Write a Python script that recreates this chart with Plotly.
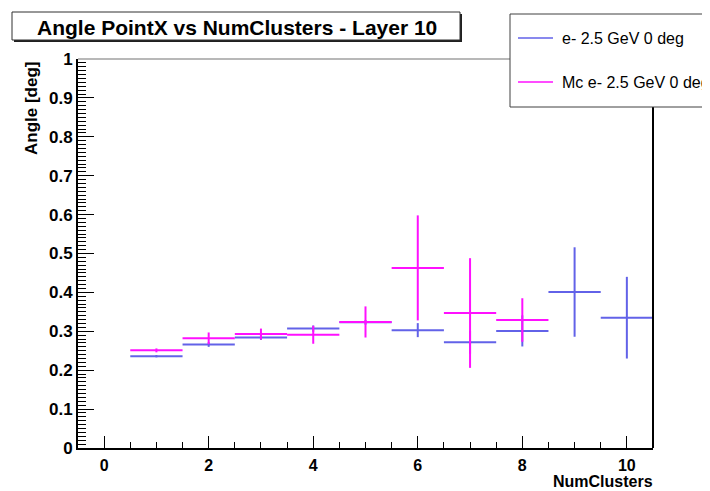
"""Angle PointX vs NumClusters, Layer 10 -- ROOT style profile plot in Plotly."""

import plotly.graph_objects as go

# data
bins_reco = [1, 2, 3, 4, 5, 6, 7, 8, 9, 10]
angle_reco = [0.236, 0.266, 0.284, 0.307, 0.323, 0.303, 0.272, 0.301, 0.401, 0.335]
err_reco = [0.003, 0.006, 0.006, 0.008, 0.006, 0.018, 0.03, 0.04, 0.115, 0.105]

bins_mc = [1, 2, 3, 4, 5, 6, 7, 8]
angle_mc = [0.251, 0.282, 0.293, 0.291, 0.324, 0.463, 0.347, 0.329]
err_mc = [0.005, 0.015, 0.014, 0.023, 0.04, 0.135, 0.141, 0.056]

label_reco = "e- 2.5 GeV 0 deg"
label_mc = "Mc e- 2.5 GeV 0 deg"
title = "Angle PointX vs NumClusters - Layer 10"

BLUE = "#6262e8"
MAGENTA = "#ff10ff"
FONT = "Liberation Sans"

# page body has an 8px margin, so the figure is shrunk and shifted by it
OFF = 8
W, H = 710 - OFF, 491 - OFF
# frame edges in screenshot pixels
FL, FR, FT, FB = 78, 653, 59, 448


def px(x):
    return (x - FL) / (FR - FL)


def py(y):
    return (FB - y) / (FB - FT)


fig = go.Figure()

for xs, ys, es, color, name in [
    (bins_reco, angle_reco, err_reco, BLUE, label_reco),
    (bins_mc, angle_mc, err_mc, MAGENTA, label_mc),
]:
    fig.add_trace(
        go.Scatter(
            x=xs,
            y=ys,
            mode="markers",
            name=name,
            marker={"size": 1, "color": color, "opacity": 0},
            error_x={"type": "constant", "value": 0.5, "width": 0, "thickness": 2, "color": color},
            error_y={"type": "data", "array": es, "width": 0, "thickness": 2, "color": color},
            showlegend=False,
            hoverinfo="x+y",
        )
    )

shapes = [
    # frame top (gray) and right (black)
    {"type": "line", "xref": "paper", "yref": "paper", "x0": 0, "x1": 1, "y0": 1, "y1": 1,
     "line": {"color": "#a0a0a0", "width": 1.5}},
    {"type": "line", "xref": "paper", "yref": "paper", "x0": 1, "x1": 1, "y0": 0, "y1": 1,
     "line": {"color": "black", "width": 2}},
    # title box shadow + box
    {"type": "rect", "xref": "paper", "yref": "paper", "x0": px(14), "x1": px(462), "y0": py(42), "y1": py(14),
     "fillcolor": "#202020", "line": {"width": 0}},
    {"type": "rect", "xref": "paper", "yref": "paper", "x0": px(12), "x1": px(460), "y0": py(40), "y1": py(12),
     "fillcolor": "white", "line": {"color": "#303030", "width": 1}},
    # legend box
    {"type": "rect", "xref": "paper", "yref": "paper", "x0": px(510), "x1": px(760), "y0": py(107), "y1": py(14),
     "fillcolor": "white", "line": {"color": "#404040", "width": 1}},
    {"type": "line", "xref": "paper", "yref": "paper", "x0": px(518), "x1": px(553), "y0": py(38), "y1": py(38),
     "line": {"color": BLUE, "width": 1.5}},
    {"type": "line", "xref": "paper", "yref": "paper", "x0": px(518), "x1": px(553), "y0": py(82), "y1": py(82),
     "line": {"color": MAGENTA, "width": 1.5}},
]

annotations = [
    {"text": title, "xref": "paper", "yref": "paper", "x": px(237), "y": py(27), "xanchor": "center",
     "yanchor": "middle", "showarrow": False, "font": {"size": 21, "color": "black", "weight": "bold"}},
    {"text": label_reco, "xref": "paper", "yref": "paper", "x": px(560), "y": py(38), "xanchor": "left",
     "yanchor": "middle", "showarrow": False, "font": {"size": 16, "color": "black"}},
    {"text": label_mc, "xref": "paper", "yref": "paper", "x": px(560), "y": py(82), "xanchor": "left",
     "yanchor": "middle", "showarrow": False, "font": {"size": 16, "color": "black"}},
    {"text": "Angle [deg]", "xref": "paper", "yref": "paper", "x": px(31), "y": py(59), "xanchor": "center",
     "yanchor": "top", "textangle": -90, "showarrow": False, "font": {"size": 17, "color": "black", "weight": "bold"}},
    {"text": "NumClusters", "xref": "paper", "yref": "paper", "x": px(654), "y": py(491), "xanchor": "right",
     "yanchor": "bottom", "borderpad": 0, "showarrow": False,
     "font": {"size": 16, "color": "black", "weight": "bold"}},
]

fig.update_layout(
    width=W,
    height=H,
    margin={"l": FL - OFF, "r": W - (FR - OFF), "t": FT - OFF, "b": H - (FB - OFF)},
    paper_bgcolor="white",
    plot_bgcolor="white",
    font={"family": FONT, "color": "black"},
    shapes=shapes,
    annotations=annotations,
    showlegend=False,
)

fig.update_xaxes(
    range=[-0.5, 10.5],
    dtick=2,
    tick0=0,
    ticks="inside",
    ticklen=12,
    tickwidth=1,
    tickcolor="black",
    minor={"dtick": 0.5, "tick0": 0, "ticks": "inside", "ticklen": 6, "tickcolor": "black"},
    showline=True,
    linecolor="black",
    linewidth=2,
    showgrid=False,
    zeroline=False,
    ticklabelstandoff=2,
    tickfont={"size": 16, "weight": "bold"},
)
fig.update_yaxes(
    range=[0, 1],
    dtick=0.1,
    tick0=0,
    ticks="inside",
    ticklen=16,
    tickwidth=1,
    tickcolor="black",
    minor={"dtick": 0.01, "tick0": 0, "ticks": "inside", "ticklen": 8, "tickcolor": "black"},
    showline=True,
    linecolor="black",
    linewidth=2,
    showgrid=False,
    zeroline=False,
    tickfont={"size": 17, "weight": "bold"},
)

fig.write_html("out.html")
